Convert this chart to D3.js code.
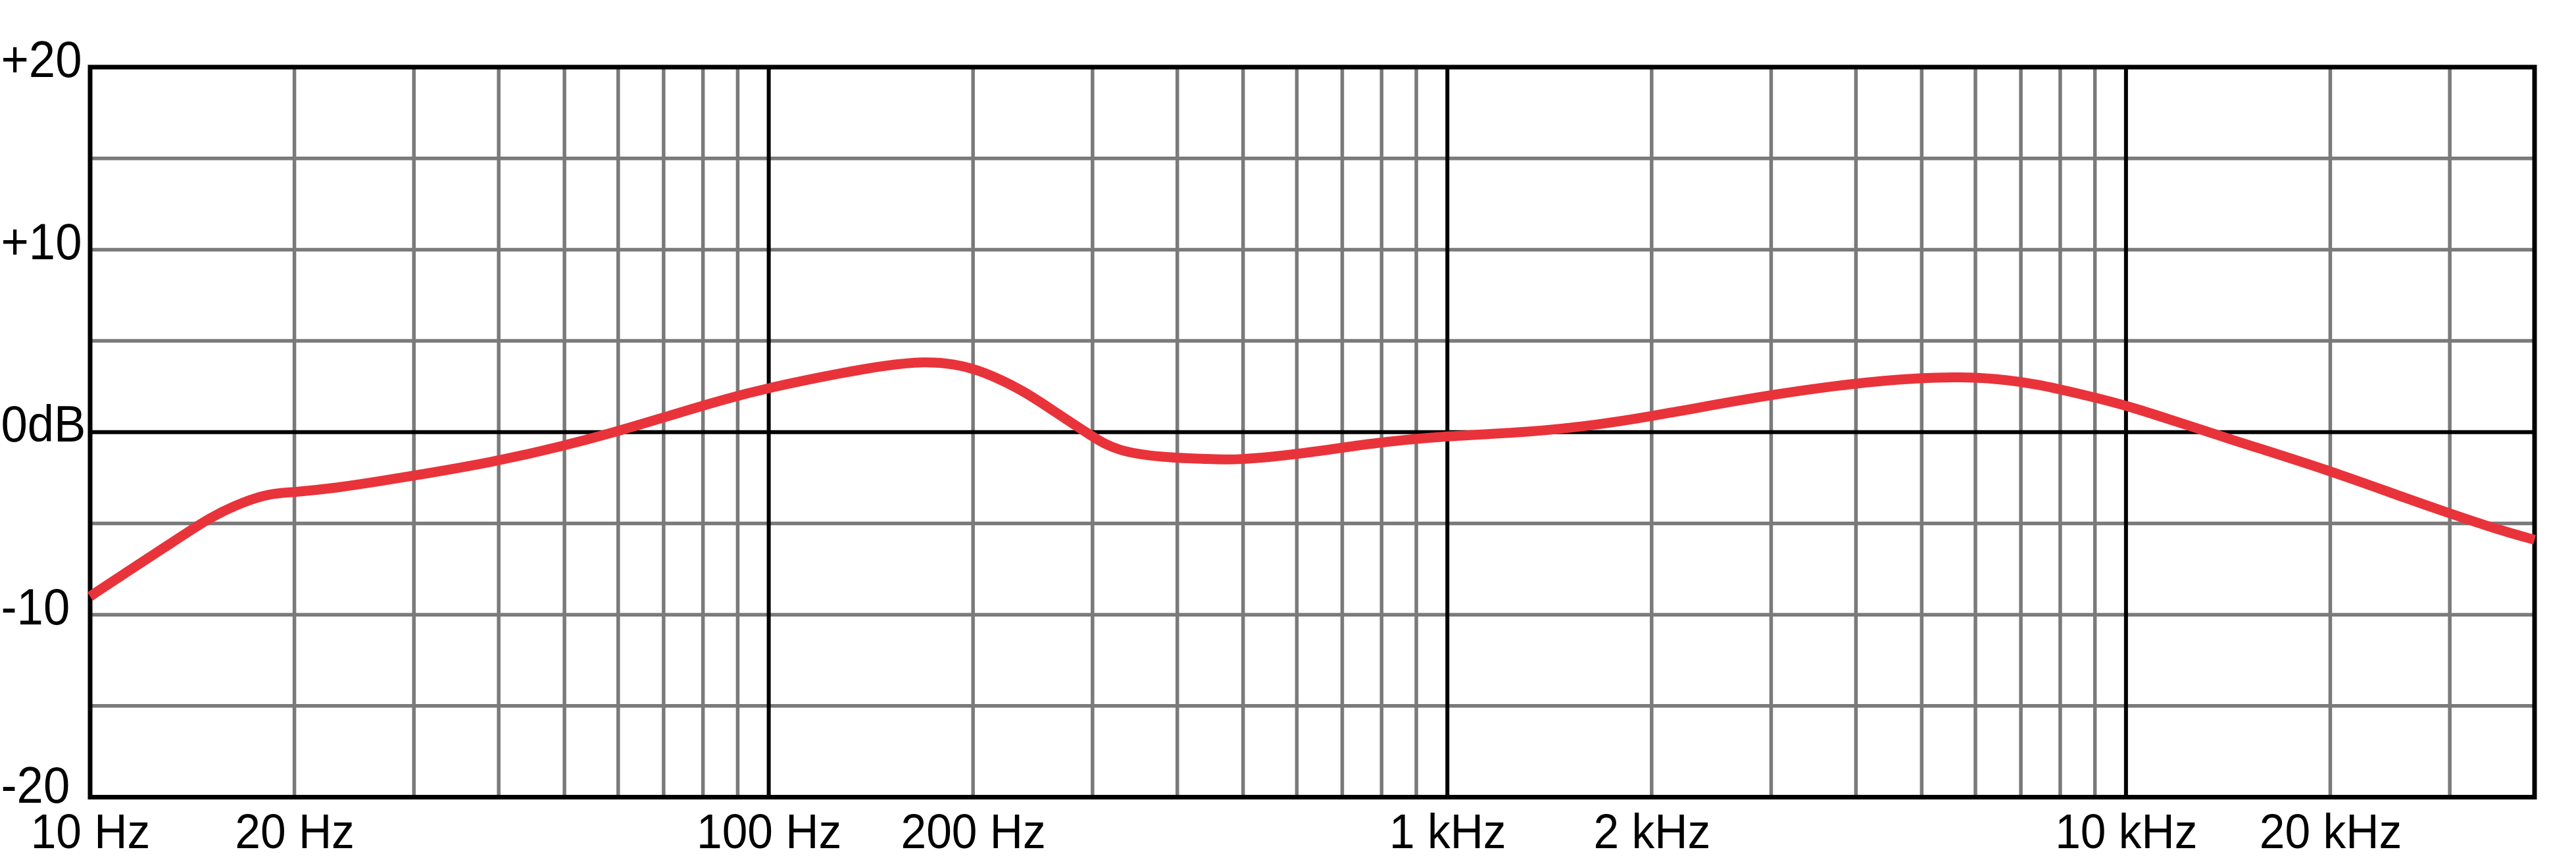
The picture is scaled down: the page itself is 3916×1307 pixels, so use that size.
<!DOCTYPE html>
<html>
<head>
<meta charset="utf-8">
<script src="https://cdn.jsdelivr.net/npm/d3@7"></script>
<style>
  html, body { margin: 0; padding: 0; background: #ffffff; }
  svg { display: block; }
  text { font-family: "Liberation Sans", Arial, sans-serif; fill: #000; }
</style>
</head>
<body>
<svg id="chart" width="3916" height="1307"></svg>
<script>
// ---- data ----
const freqs = [10, 11.35, 13.1, 15.1, 16.9, 18.4, 19.7, 23.1, 29.5, 39.4, 49.4, 59.2, 69.7, 85.8,
  100.8, 126.9, 148.5, 169.6, 187.8, 206.2, 237.5, 265, 300, 325, 380, 444, 488, 607, 768, 998,
  1322, 1672, 1977, 2474, 3000, 3957, 5005, 5672, 6428, 7404, 8658, 10000, 14000, 20000, 25790,
  30000, 35040, 40000];
const response = [-9.0, -7.64, -6.14, -4.60, -3.79, -3.37, -3.31, -3.07, -2.43, -1.63, -0.79, -0.01, 0.78, 1.8,
  2.46, 3.22, 3.66, 3.88, 3.74, 3.36, 2.28, 1.07, -0.25, -1.03, -1.39, -1.47, -1.54, -1.21, -0.61, -0.2,
  -0.01, 0.41, 0.84, 1.50, 2.04, 2.68, 2.98, 3.02, 2.94, 2.64, 2.04, 1.5, -0.31, -2.11, -3.61,
  -4.45, -5.30, -5.90];

const xLabelFreqs = [10, 20, 100, 200, 1000, 2000, 10000, 20000];
const xLabels = ["10 Hz", "20 Hz", "100 Hz", "200 Hz", "1 kHz", "2 kHz", "10 kHz", "20 kHz"];
const yLabelValues = [20, 10, 0, -10, -20];
const yLabels = ["+20", "+10", "0dB", "-10", "-20"];
const majorFreqs = [100, 1000, 10000];
const minorFreqs = [20,30,40,50,60,70,80,90, 200,300,400,500,600,700,800,900,
  2000,3000,4000,5000,6000,7000,8000,9000, 20000,30000];
const dbGrid = [15, 10, 5, -5, -10, -15];

// ---- layout ----
const L = 137, R = 3853, T = 102, B = 1211.5;
const x = d3.scaleLog().domain([10, 40000]).range([L, R]);
const y = d3.scaleLinear().domain([-20, 20]).range([B, T]);

const svg = d3.select("#chart");
const GRAY = "#7a7a7a";

// minor vertical grid
svg.append("g").selectAll("line").data(minorFreqs).join("line")
  .attr("x1", d => x(d)).attr("x2", d => x(d))
  .attr("y1", T).attr("y2", B)
  .attr("stroke", GRAY).attr("stroke-width", 5.5);

// horizontal grid
svg.append("g").selectAll("line").data(dbGrid).join("line")
  .attr("x1", L).attr("x2", R)
  .attr("y1", d => y(d)).attr("y2", d => y(d))
  .attr("stroke", GRAY).attr("stroke-width", 5.5);

// major vertical grid
svg.append("g").selectAll("line").data(majorFreqs).join("line")
  .attr("x1", d => x(d)).attr("x2", d => x(d))
  .attr("y1", T).attr("y2", B)
  .attr("stroke", "#000").attr("stroke-width", 6);

// 0 dB line
svg.append("line")
  .attr("x1", L).attr("x2", R).attr("y1", y(0)).attr("y2", y(0))
  .attr("stroke", "#000").attr("stroke-width", 6);

// frame
svg.append("rect")
  .attr("x", L).attr("y", T).attr("width", R - L).attr("height", B - T)
  .attr("fill", "none").attr("stroke", "#000").attr("stroke-width", 7);

// curve
const pts = freqs.map((f, i) => ({ f: f, v: response[i] }));
const line = d3.line().x(d => x(d.f)).y(d => y(d.v)).curve(d3.curveBasis);
svg.append("path").datum(pts)
  .attr("d", line)
  .attr("fill", "none").attr("stroke", "#e9333a").attr("stroke-width", 15)
  .attr("stroke-linejoin", "round").attr("stroke-linecap", "butt");

// x axis labels
const SX = 0.94;
const xAxis = d3.axisBottom(x).tickValues(xLabelFreqs)
  .tickFormat((d, i) => xLabels[i]).tickSize(0).tickPadding(0);
const gx = svg.append("g").call(xAxis);
gx.select(".domain").remove();
gx.selectAll("text")
  .attr("y", 1289).attr("dy", null)
  .attr("font-size", 74)
  .attr("font-family", '"Liberation Sans", Arial, sans-serif')
  .attr("fill", "#000")
  .attr("text-anchor", "middle")
  .attr("transform", `scale(${SX},1)`)
  .attr("x", 0);

// y axis labels
const yAxis = d3.axisLeft(y).tickValues(yLabelValues)
  .tickFormat((d, i) => yLabels[i]).tickSize(0).tickPadding(0);
const gy = svg.append("g").attr("transform", `translate(${L},0)`).call(yAxis);
gy.select(".domain").remove();
gy.selectAll("text")
  .attr("x", (0 - L) / SX).attr("dy", null).attr("y", d => d === -20 ? 8 : 14)
  .attr("font-size", 78)
  .attr("font-family", '"Liberation Sans", Arial, sans-serif')
  .attr("fill", "#000")
  .attr("text-anchor", "start")
  .attr("transform", `scale(0.93,1)`);
</script>
</body>
</html>
